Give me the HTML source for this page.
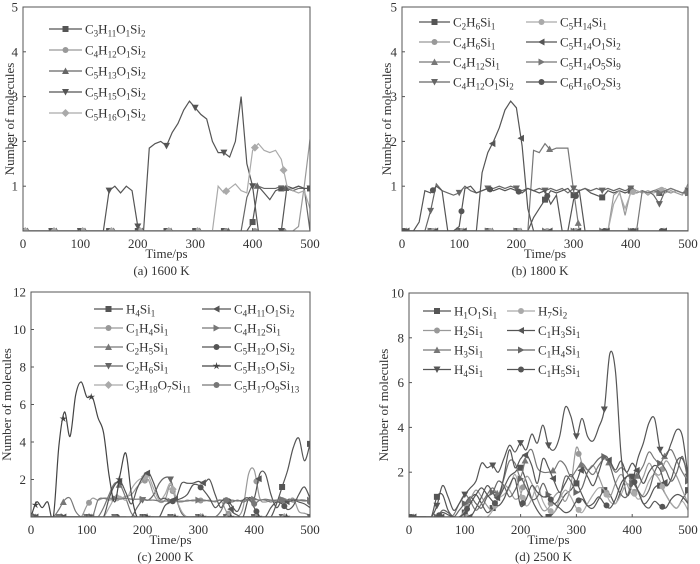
<!DOCTYPE html>
<html><head><meta charset="utf-8"><style>
body{margin:0;background:#fff}
svg{display:block;font-family:"Liberation Serif",serif}
</style></head><body>
<svg id="fig" width="700" height="564" viewBox="0 0 700 564" xmlns="http://www.w3.org/2000/svg"></svg>
<script>
// ---- shared time axis (ps) ----
const times = Array.from({length:51},(_, i)=>i*10);
const xTicks = [0,100,200,300,400,500];

// ---- panel (a) 1600 K ----
const aTicksY = [1,2,3,4,5];
const aLabels = ["C3H11O1Si2","C4H12O1Si2","C5H13O1Si2","C5H15O1Si2","C5H16O1Si2"];
const a_sq = [0,0,0,0,0,0,0,0,0,0,0,0,0,0,0,0,0,0,0,0,0,0,0,0,0,0,0,0,0,0,0,0,0,0,0,0,0,0,0,0,0.2,1.0,0.85,0.7,0.9,0.95,1.0,0.95,1.0,0.95,0.95];
const a_ci = [0,0,0,0,0,0,0,0,0,0,0,0,0,0,0,0,0,0,0,0,0,0,0,0,0,0,0,0,0,0,0,0,0,0,0,0,0,0,0,0,0,0,0,0,0,0,0,0,0.1,1.0,2.05];
const a_up = [0,0,0,0,0,0,0,0,0,0,0,0,0,0,0,0,0,0,0,0,0,0,0,0,0,0,0,0,0,0,0,0,0,0,0,0,0,0,0,0.75,1.05,1.0,0.95,0.95,0.95,1.0,0.95,0.9,0.95,0.95,0];
const a_dn = [0,0,0,0,0,0,0,0,0,0,0,0,0,0,0,0.9,1.0,0.85,1.0,0.9,0.1,0,1.85,1.95,2.0,1.9,2.2,2.4,2.7,2.9,2.75,2.6,2.5,2.0,1.75,1.75,1.65,2.0,3.0,1.5,1.0,0,0,0,0,0,1.0,0.95,1.0,0.95,0.95];
const a_di = [0,0,0,0,0,0,0,0,0,0,0,0,0,0,0,0,0,0,0,0,0,0,0,0,0,0,0,0,0,0,0,0,0,0,1.0,0.85,0.95,1.05,0.9,0.85,1.8,1.95,1.8,1.75,1.8,1.6,1.0,0.9,0.85,0.9,0.5];

// ---- panel (b) 1800 K ----
const bTicksY = [1,2,3,4,5];
const bLabels = ["C2H6Si1","C4H6Si1","C4H12Si1","C4H12O1Si2","C5H14Si1","C5H14O1Si2","C5H14O5Si9","C6H16O2Si3"];
const b_sq = [0,0,0,0,0,0,0,0,0,0,0,0,0,0,0,0,0,0,0,0,0,0,0,0.3,0.5,0.7,0.9,0.85,0.9,0.95,0.8,0.9,0.95,0.85,0.8,0.75,0.9,0.85,0.9,0.85,0.9,0.85,0.9,0.85,0.9,0.85,0.9,0.85,0.9,0.85,0.85];
const b_ci1 = [0,0,0,0,0,0,0,0,0,0,0,0,0,0,0,0,0,0,0,0,0,0,0,0,0,0,0,0,0,0,0,0,0,0,0,0,0,0.8,0.9,0.35,0.9,0.85,0.9,0.8,0.9,0.95,0.85,0.9,0.85,0.8,1.05];
const b_up = [0,0,0,0,0,0,0,0,0,0,0,0,0,0,0,0,0,0,0,0,0,0,0,1.8,1.75,1.95,1.8,1.85,1.85,1.85,0.9,0,0,0,0,0,0,0,0,0,0,0,0,0,0,0,0,0,0,0,0];
const b_dn = [0,0,0,0,0,0.45,1.05,0.9,0.85,0.8,0.85,1.0,0.9,0.85,0.9,0.95,0.95,1.0,0.95,1.0,0.95,0.9,0.95,0.9,0.95,0.9,0.95,0.9,0.95,0.85,0.95,0.9,0.95,0.9,0.95,0.9,0.95,0.9,0.95,0.9,0.95,0.9,0.85,0.9,0.8,0.6,0.9,0.95,0.9,0.85,0.9];
const b_ci2 = [0,0,0,0,0,0,0,0,0,0,0,0,0,0,0,0,0,0,0,0,0,0,0,0,0,0,0,0,0,0,0,0,0,0,0,0,0,0.6,0.85,0.5,0.85,0.9,0.85,0.9,0.85,0.9,0.95,0.85,0.9,0.85,0.8];
const b_lt = [0,0,0,0,0,0,0,0,0,0,0,0,0,0,1.3,1.75,2.0,2.3,2.7,2.9,2.75,1.9,0.5,0,0,0,0,0,0,0,0,0,0,0,0,0,0,0,0,0,0,0,0,0,0,0,0,0,0,0,0];
const b_rt = [0,0,0,0,0,0,0,0,0,0,0,0,0,0,0,0,0,0,0,0,0,0,0,0,0,0,0,0,0,0,0,0,0,0,0,0,0,0,0,0,0,0,0.9,0.85,0.9,0.85,0.9,0.95,0.9,0.85,0.85];
const b_ci6 = [0,0,0,0.2,0.9,0.85,1.0,0.9,0,0,0.1,0.95,1.0,0.85,0.9,0.95,0.9,0.95,0.9,0.95,0.9,0.85,0.95,0.9,0.85,0.9,0.6,0.8,0,0,0.7,0.9,0,0,0,0,0,0,0,0,0,0,0,0,0,0,0,0,0,0,0];

// ---- panel (c) 2000 K ----
const cTicksY = [2,4,6,8,10,12];
const cLabels = ["H4Si1","C1H4Si1","C2H5Si1","C2H6Si1","C3H18O7Si11","C4H11O1Si2","C4H12Si1","C5H12O1Si2","C5H15O1Si2","C5H17O9Si13"];
const c_sq = [0,0,0,0,0,0,0,0,0,0,0,0,0,0,0,0,0,0,0,0,0,0,0,0,0,0,0,0,0,0,0,0,0,0,0,0,0,0,0,0,0,0,0,0,0.7,1.6,2.5,3.7,4.2,3.0,3.9];
const c_ci = [0,0,0,0,0,0,0,0,0,0,0.6,1.0,0.9,1.0,0.9,1.0,1.0,1.1,1.2,1.6,1.9,2.0,1.2,0.8,0.9,1.7,0.9,0.8,0.9,0.85,0.9,0.85,0.9,0.8,0.9,0.3,0,0,0.5,2.3,2.5,1.0,0.8,0.9,0.8,0.9,0.8,1.0,0.3,0.2,0.1];
const c_up = [0,0,0,0,0,0.4,0.9,1.0,0.3,0,0,0,0,0.5,1.2,1.8,1.7,1.0,0.2,0,0,0,0,0,0,0,0,0,0,0,0,0,0,0,0,0,0,0,0,0,0,0,0,0,0,0,0,0,0,0,0];
const c_dn = [0,0,0,0,0,0,0,0,0,0,0,0,0,0,0,0,0,0,0,0.5,0.9,0.9,1.2,1.8,2.1,2.0,1.0,0.2,0,0,0,0,0,0,0,0,0,0,0,0,0,0,0,0,0,0,0,0,0,0,0];
const c_di = [0,0,0,0,0,0,0,0,0,0,0,0,0,0,0.5,1.0,1.1,0.9,1.5,1.9,2.1,2.2,1.5,0.9,1.2,1.8,1.0,0.3,0,0,0,0,0,0,0,0,0,0,0,0,0,0,0,0,0,0,0,0,0,0,0];
const c_lt = [0,0,0,0,0,0,0,0,0,0,0,0,0,0,1.0,1.7,1.9,1.3,0.7,1.5,2.1,2.4,1.8,1.0,1.0,0.8,1.0,1.8,1.8,1.8,1.9,1.8,2.0,1.2,0.5,0.9,0.3,0.1,0,1.0,1.0,2.3,2.3,1.2,0.5,0.9,0.8,0.9,0.8,0.7,0.5];
const c_rt = [0,0,0,0,0,0,0,0,0,0,0,0,0.9,1.0,1.0,1.0,0.95,1.0,0.95,0.95,0.95,0.9,0.9,0.85,0.85,0.85,0.85,0.85,0.85,0.9,0.9,0.9,0.85,0.85,0.9,0.85,0.9,0.85,0.9,0.95,0.95,0.9,0.95,0.9,0.9,0.95,0.9,0.95,0.9,0.85,0.9];
const c_ci5 = [0,0,0,0,0,0,0,0,0,0,0,0,0,0,0,0,0,0,0,0,0,0,0,0,0.6,0.8,0.9,1.0,1.2,1.7,1.7,1.4,1.0,0.5,0.8,1.0,0.6,0.3,0.9,1.0,0.5,0,0,0.5,0.8,0.7,0.4,0.6,1.2,1.6,1.0];
const c_st = [0,0.8,0.5,0.8,0,3.8,5.6,4.3,6.5,7.2,6.4,6.4,5.3,4.5,2.2,0.8,2.3,3.4,1.2,0,0,0,0,0,0,0,0,0,0,0,0,0,0,0,0,0,0,0,0,0,0,0,0,0,0,0,0,0,0,0,0];
const c_ci13 = [0,0,0,0,0,0,0,0,0,0,0,0,0,0,0,0,0,0,0,0,0,0,0,0,0,0,0,0,0,0,0,0,0,0,0.3,0.9,0.8,0.9,0.8,0.9,0.7,0.9,0.9,0.8,0.9,0.9,0.9,0.8,0.9,0.9,0.8];

// ---- panel (d) 2500 K ----
const dTicksY = [2,4,6,8,10];
const dLabels = ["H1O1Si1","H2Si1","H3Si1","H4Si1","H7Si2","C1H3Si1","C1H4Si1","C1H5Si1"];
const d_sq = [0,0,0,0,0,0.9,1.0,0.3,0,0,0.2,0.8,1.0,0.6,0.2,0.4,0.8,1.3,1.8,2.0,2.2,1.6,0.8,0.3,0,0,0.2,0.6,1.0,1.2,1.5,1.0,0.5,0.4,0.8,1.2,1.0,0.6,1.2,1.8,1.8,1.2,0.6,0.8,1.3,1.4,1.0,0.6,0.4,0.8,1.2];
const d_ci = [0,0,0,0,0,0,0,0,0,0,0.3,0.8,1.2,0.9,0.5,0.3,0.8,1.4,1.2,0.8,1.0,1.8,1.5,0.8,0.3,0.4,0.9,1.1,0.7,1.4,3.1,2.4,2.1,2.3,1.8,1.2,0.9,1.5,1.9,1.5,1.0,1.3,1.8,2.4,2.0,1.9,2.5,2.2,1.8,1.2,0.6];
const d_up = [0,0,0,0,0,0,0,0,0.1,0.6,1.0,0.7,0.3,0.6,1.0,1.3,1.0,1.7,2.5,2.4,1.8,2.7,3.0,2.2,2.0,2.0,2.1,2.5,2.3,1.8,2.1,2.4,2.1,1.9,2.3,2.6,2.4,2.0,2.2,2.0,1.6,1.9,2.3,2.9,2.6,2.4,2.8,3.0,2.5,2.0,1.6];
const d_dn = [0,0,0,0,0,0.5,1.4,0.9,0.3,0.6,1.0,1.3,1.6,2.4,2.2,2.3,2.0,2.6,3.2,2.9,3.3,3.0,3.7,3.3,4.1,3.2,3.0,3.6,4.9,4.5,3.6,4.4,3.6,3.4,4.0,4.8,7.3,6.5,2.8,1.0,1.5,2.6,3.3,4.2,4.4,3.0,2.7,3.3,3.9,3.6,1.8];
const d_ci7 = [0,0,0,0,0,0,0,0,0,0,0,0,0,0,0,0.3,0.8,1.0,1.3,1.9,1.1,0.5,0.8,1.4,0.7,0.3,0.2,0.8,1.2,0.9,0.4,0.2,0.6,1.0,1.3,1.2,0.7,0.6,1.0,1.5,1.2,0.8,1.0,1.6,1.9,1.6,1.0,0.6,0.4,0.7,0.3];
const d_lt = [0,0,0,0,0,0,0,0,0,0,0,0,0.4,0.9,1.4,1.1,0.8,1.8,3.0,2.2,2.6,2.8,2.3,1.5,2.6,2.2,1.6,1.1,1.5,1.9,1.6,2.2,1.8,1.4,2.0,2.7,2.5,2.1,2.5,2.0,2.4,2.0,1.5,2.0,2.3,2.1,1.4,1.7,2.5,2.6,1.9];
const d_rt = [0,0,0,0,0,0,0.3,0.2,0,0.3,0.6,0.9,0.6,0.4,0.9,1.1,1.6,1.4,0.9,1.2,1.7,1.3,0.8,0.9,1.5,1.0,0.6,0.9,1.8,1.6,1.1,1.3,2.0,2.3,2.6,2.7,2.3,1.5,1.0,0.9,1.5,1.2,0.9,1.2,2.0,2.4,2.1,1.6,2.0,2.7,1.6];
const d_ci5 = [0,0,0,0,0,0,0.2,0.1,0,0,0.2,0.6,1.0,1.3,1.0,0.7,0.5,0.8,1.4,1.7,0.5,0.8,1.4,1.1,0.9,0.9,0.6,0.4,0.2,0.3,0.7,0.8,0.5,0.6,0.9,0.6,0.4,0.8,1.5,1.8,1.8,1.2,0.6,0.4,0.7,0.5,0.4,0.8,1.0,0.9,0.6];

const NS="http://www.w3.org/2000/svg";
const svg=document.getElementById('fig');
function mk(tag,attrs,parent){const e=document.createElementNS(NS,tag);for(const k in attrs)e.setAttribute(k,attrs[k]);(parent||svg).appendChild(e);return e;}

function formula(parent,x,y,label,anchor){
  const t=mk('text',{x:x,y:y,'font-size':13,fill:'#333','text-anchor':anchor||'start'},parent);
  const parts=label.match(/[A-Z][a-z]?|\d+/g);
  let sub=false;
  parts.forEach(p=>{
    const isNum=/^\d+$/.test(p);
    const ts=mk('tspan',{},t);
    if(isNum){ts.setAttribute('font-size',9);ts.setAttribute('dy',sub?0:3);sub=true;}
    else{if(sub){ts.setAttribute('dy',-3);}sub=false;}
    ts.textContent=p;
  });
  return t;
}

function marker(parent,type,cx,cy,color,s){
  s=s||3.5;let e;
  if(type==='sq')e=mk('rect',{x:cx-s,y:cy-s,width:2*s,height:2*s,fill:color},parent);
  else if(type==='ci')e=mk('circle',{cx:cx,cy:cy,r:s,fill:color},parent);
  else{
    let pts;
    if(type==='up')pts=[[0,-s-0.5],[s+0.5,s],[-s-0.5,s]];
    else if(type==='dn')pts=[[0,s+0.5],[s+0.5,-s],[-s-0.5,-s]];
    else if(type==='lt')pts=[[-s-0.5,0],[s,-s-0.5],[s,s+0.5]];
    else if(type==='rt')pts=[[s+0.5,0],[-s,-s-0.5],[-s,s+0.5]];
    else if(type==='di')pts=[[0,-s-1],[s+1,0],[0,s+1],[-s-1,0]];
    else if(type==='st'){pts=[];for(let i=0;i<10;i++){const r=i%2?s*0.45:s+1;const a=-Math.PI/2+i*Math.PI/5;pts.push([r*Math.cos(a),r*Math.sin(a)]);}}
    e=mk('polygon',{points:pts.map(p=>(cx+p[0])+','+(cy+p[1])).join(' '),fill:color},parent);
  }
  return e;
}

function panel(cfg){
  const g=mk('g',{});
  
  
  const {x0,x1,y0,y1,ymax}=cfg;
  const X=t=>x0+(t/500)*(x1-x0);
  const Y=v=>y1-(v/ymax)*(y1-y0);
  const cid='clip-'+cfg.id;
  const cp=mk('clipPath',{id:cid},g);mk('rect',{x:x0,y:y0-1,width:x1-x0,height:y1-y0+1},cp);
  // series
  const sg=mk('g',{'clip-path':'url(#'+cid+')'},g);
  cfg.series.forEach((s,si)=>{
    const pts=times.map((t,i)=>[X(t),Y(s.data[i])]);
    let d='M'+pts[0][0]+','+pts[0][1];
    if(cfg.smooth){
      for(let i=0;i<pts.length-1;i++){
        const p0=pts[Math.max(0,i-1)],p1=pts[i],p2=pts[i+1],p3=pts[Math.min(pts.length-1,i+2)];
        const c1=[p1[0]+(p2[0]-p0[0])/6,p1[1]+(p2[1]-p0[1])/6];
        const c2=[p2[0]-(p3[0]-p1[0])/6,p2[1]-(p3[1]-p1[1])/6];
        d+=' C'+c1[0]+','+c1[1]+' '+c2[0]+','+c2[1]+' '+p2[0]+','+p2[1];
      }
    } else pts.slice(1).forEach(p=>d+=' L'+p[0]+','+p[1]);
    const path=mk('path',{d:d,fill:'none',stroke:s.color,'stroke-width':1.2},sg);
    
    
    const off=(si*4)%12;
    for(let t=off;t<=500;t+=50){
      const i=Math.floor(t/10),f=(t-i*10)/10;
      const v=i<50?s.data[i]*(1-f)+s.data[i+1]*f:s.data[50];
      const m=marker(sg,s.m,X(t),Y(v),s.color,3);
      
      
    }
  });
  // axes box
  const box=mk('rect',{x:x0,y:y0,width:x1-x0,height:y1-y0,fill:'none',stroke:'#555','stroke-width':1},g);
  
  
  xTicks.forEach(t=>{
    mk('line',{x1:X(t),x2:X(t),y1:y1,y2:y1-3,stroke:'#555'},g);
    const tx=mk('text',{x:X(t),y:y1+17,'font-size':13,fill:'#333','text-anchor':'middle'},g);
    tx.textContent=t;
    
    
  });
  cfg.ticksY.forEach(v=>{
    mk('line',{x1:x0,x2:x0+3,y1:Y(v),y2:Y(v),stroke:'#555'},g);
    const tx=mk('text',{x:x0-5,y:Y(v)+4.5,'font-size':13,fill:'#333','text-anchor':'end'},g);
    tx.textContent=v;
    
    
  });
  const xt=mk('text',{x:(x0+x1)/2,y:y1+27,'font-size':13,fill:'#333','text-anchor':'middle'},g);
  xt.textContent='Time/ps';
  
  
  const yt=mk('text',{x:0,y:0,'font-size':13,fill:'#333','text-anchor':'middle',transform:'translate('+cfg.ytx+','+((y0+y1)/2)+') rotate(-90)'},g);
  yt.textContent='Number of molecules';
  
  
  const cap=mk('text',{x:(x0+x1)/2-5,y:y1+44,'font-size':13,fill:'#333','text-anchor':'middle'},g);
  cap.textContent=cfg.caption;
  
  
  // legend
  const lg=mk('g',{},g);
  
  
  cfg.series.forEach((s,i)=>{
    const col=Math.floor(i/cfg.rows),row=i%cfg.rows;
    const lx=cfg.legX[col],ly=cfg.legY+row*cfg.legDy;
    const e=mk('g',{},lg);
    
    
    mk('line',{x1:lx,x2:lx+cfg.legW,y1:ly,y2:ly,stroke:s.color,'stroke-width':1.2},e);
    marker(e,s.m,lx+cfg.legW/2,ly,s.color,3);
    formula(e,lx+cfg.legW+3,ly+4.5,s.label);
  });
}

panel({id:'a',name:'panel-a-1600k',x0:23,x1:310,y0:7,y1:231,ymax:5,ticksY:aTicksY,ytx:14,caption:'(a) 1600 K',smooth:false,
  rows:5,legX:[49],legY:29,legDy:21,legW:33,
  series:[
    {label:aLabels[0],data:a_sq,m:'sq',color:'#555'},
    {label:aLabels[1],data:a_ci,m:'ci',color:'#999'},
    {label:aLabels[2],data:a_up,m:'up',color:'#666'},
    {label:aLabels[3],data:a_dn,m:'dn',color:'#555'},
    {label:aLabels[4],data:a_di,m:'di',color:'#aaa'}]});
panel({id:'b',name:'panel-b-1800k',x0:402,x1:688,y0:7,y1:231,ymax:5,ticksY:bTicksY,ytx:391,caption:'(b) 1800 K',smooth:false,
  rows:4,legX:[419,526],legY:22,legDy:20,legW:31,
  series:[
    {label:bLabels[0],data:b_sq,m:'sq',color:'#555'},
    {label:bLabels[1],data:b_ci1,m:'ci',color:'#999'},
    {label:bLabels[2],data:b_up,m:'up',color:'#777'},
    {label:bLabels[3],data:b_dn,m:'dn',color:'#666'},
    {label:bLabels[4],data:b_ci2,m:'ci',color:'#aaa'},
    {label:bLabels[5],data:b_lt,m:'lt',color:'#555'},
    {label:bLabels[6],data:b_rt,m:'rt',color:'#777'},
    {label:bLabels[7],data:b_ci6,m:'ci',color:'#555'}]});
panel({id:'c',name:'panel-c-2000k',x0:31,x1:310,y0:292,y1:517,ymax:12,ticksY:cTicksY,ytx:11,caption:'(c) 2000 K',smooth:true,
  rows:5,legX:[94,202],legY:309,legDy:19,legW:29,
  series:[
    {label:cLabels[0],data:c_sq,m:'sq',color:'#555'},
    {label:cLabels[1],data:c_ci,m:'ci',color:'#999'},
    {label:cLabels[2],data:c_up,m:'up',color:'#777'},
    {label:cLabels[3],data:c_dn,m:'dn',color:'#666'},
    {label:cLabels[4],data:c_di,m:'di',color:'#aaa'},
    {label:cLabels[5],data:c_lt,m:'lt',color:'#555'},
    {label:cLabels[6],data:c_rt,m:'rt',color:'#777'},
    {label:cLabels[7],data:c_ci5,m:'ci',color:'#555'},
    {label:cLabels[8],data:c_st,m:'st',color:'#444'},
    {label:cLabels[9],data:c_ci13,m:'ci',color:'#777'}]});
panel({id:'d',name:'panel-d-2500k',x0:409,x1:688,y0:293,y1:517,ymax:10,ticksY:dTicksY,ytx:388,caption:'(d) 2500 K',smooth:true,
  rows:4,legX:[423,507],legY:311,legDy:19.5,legW:28,
  series:[
    {label:dLabels[0],data:d_sq,m:'sq',color:'#555'},
    {label:dLabels[1],data:d_ci,m:'ci',color:'#999'},
    {label:dLabels[2],data:d_up,m:'up',color:'#777'},
    {label:dLabels[3],data:d_dn,m:'dn',color:'#555'},
    {label:dLabels[4],data:d_ci7,m:'ci',color:'#aaa'},
    {label:dLabels[5],data:d_lt,m:'lt',color:'#555'},
    {label:dLabels[6],data:d_rt,m:'rt',color:'#666'},
    {label:dLabels[7],data:d_ci5,m:'ci',color:'#555'}]});
</script>
</body></html>
